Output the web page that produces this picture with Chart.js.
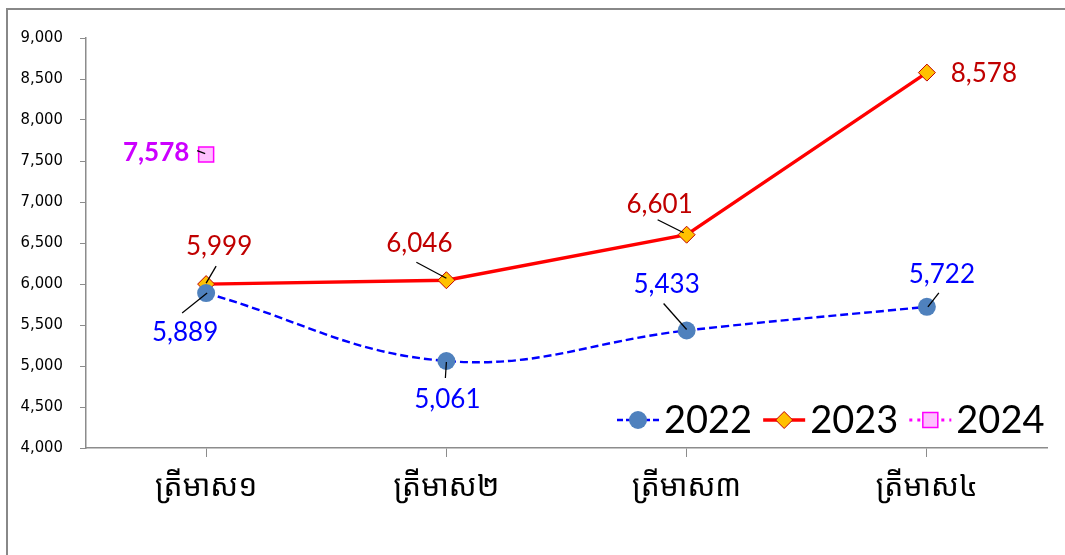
<!DOCTYPE html>
<html>
<head>
<meta charset="utf-8">
<script src="https://cdn.jsdelivr.net/npm/chart.js@4/dist/chart.umd.min.js"></script>
<style>
  html, body { margin: 0; padding: 0; background: #fff; }
  #wrap { position: relative; width: 1065px; height: 555px; overflow: hidden; }
  #frame { position: absolute; left: 6px; top: 8px; width: 1200px; height: 700px; border: 2px solid #888; box-sizing: border-box; }
  canvas { position: absolute; left: 0; top: 0; }
</style>
</head>
<body>
<div id="wrap">
  <div id="frame"></div>
  <canvas id="c" width="1065" height="555"></canvas>
</div>
<script>
const categories = ['ត្រីមាស១', 'ត្រីមាស២', 'ត្រីមាស៣', 'ត្រីមាស៤'];
const seriesNames = ['2022', '2023', '2024'];
const values2022 = [5889, 5061, 5433, 5722];
const values2023 = [5999, 6046, 6601, 8578];
const values2024 = [7578, null, null, null];
const yTicks = [4000, 4500, 5000, 5500, 6000, 6500, 7000, 7500, 8000, 8500, 9000];

// label placement (offsets from the point, pixels) and leader lines
const labelStyle = [
  { color: '#0000FF', bold: false,
    off: [[-21, 40], [1, 39], [-20, -46], [15, -32]],
    lead: [[1, 0, -24, 20], [0, 1, -1, 17], [-23, -27, 0, -1], [12, -14, 1, 0]] },
  { color: '#C00000', bold: false,
    off: [[13, -37], [-27, -37], [-27, -30], [57, 1]],
    lead: [[10, -18, 0, -1], [-30, -18, 0, -2], [-29, -15, -3, -2], null] },
  { color: '#CC00FF', bold: true,
    off: [[-50, -2]],
    lead: [[-9, -4, -1, -1]] }
];

const fmt = v => v.toLocaleString('en-US');

const dataLabelPlugin = {
  id: 'dataLabels',
  afterDatasetsDraw(chart) {
    const ctx = chart.ctx;
    chart.data.datasets.forEach((ds, di) => {
      const meta = chart.getDatasetMeta(di);
      const st = labelStyle[di];
      meta.data.forEach((pt, i) => {
        const v = ds.data[i];
        if (v === null || v === undefined || !st.off[i]) return;
        const x = pt.x, y = pt.y;
        const ld = st.lead[i];
        if (ld) {
          ctx.save();
          ctx.strokeStyle = '#000';
          ctx.lineWidth = 1.3;
          ctx.beginPath();
          ctx.moveTo(x + ld[0], y + ld[1]);
          ctx.lineTo(x + ld[2], y + ld[3]);
          ctx.stroke();
          ctx.restore();
        }
        ctx.save();
        ctx.font = (st.bold ? 'bold ' : '') + '26px Lato, "Open Sans", sans-serif';
        ctx.fillStyle = st.color;
        ctx.textAlign = 'center';
        ctx.textBaseline = 'middle';
        ctx.fillText(fmt(v), x + st.off[i][0], y + st.off[i][1]);
        ctx.restore();
      });
    });
  }
};

function drawMarker(ctx, ds, x, y) {
  ctx.save();
  ctx.fillStyle = ds.pointBackgroundColor;
  ctx.strokeStyle = ds.pointBorderColor;
  ctx.lineWidth = ds.pointBorderWidth;
  ctx.beginPath();
  const r = ds.pointRadius;
  if (ds.pointStyle === 'circle') {
    ctx.arc(x, y, r, 0, Math.PI * 2);
  } else if (ds.pointStyle === 'rectRot') {
    ctx.moveTo(x, y - r); ctx.lineTo(x + r, y); ctx.lineTo(x, y + r); ctx.lineTo(x - r, y); ctx.closePath();
  } else {
    const s = r * Math.SQRT1_2;
    ctx.rect(x - s, y - s, 2 * s, 2 * s);
  }
  ctx.fill();
  if (ds.pointBorderWidth > 0) ctx.stroke();
  ctx.restore();
}

const legendPlugin = {
  id: 'customLegend',
  afterDraw(chart) {
    const ctx = chart.ctx;
    ctx.save();
    ctx.font = '38px Lato, "Open Sans", sans-serif';
    let x = 617;
    const y = 420;
    chart.data.datasets.forEach(ds => {
      const sw = 42;
      ctx.save();
      ctx.strokeStyle = ds.borderColor;
      ctx.lineWidth = ds.legendWidth || ds.borderWidth;
      ctx.setLineDash(ds.legendDash || []);
      ctx.beginPath();
      ctx.moveTo(x, y); ctx.lineTo(x + sw, y);
      ctx.stroke();
      ctx.restore();
      drawMarker(ctx, ds, x + sw / 2, y);
      x += sw + 5;
      ctx.fillStyle = '#000';
      ctx.textAlign = 'left';
      ctx.textBaseline = 'middle';
      ctx.fillText(ds.label, x, y + 1);
      x += ctx.measureText(ds.label).width + 11;
    });
    ctx.restore();
  }
};

new Chart(document.getElementById('c'), {
  type: 'line',
  data: {
    labels: categories,
    datasets: [
      { label: seriesNames[0], data: values2022, borderColor: '#0000FF', borderWidth: 2.4,
        borderDash: [8, 4], legendDash: [6, 3], legendWidth: 2.6, tension: 0.4,
        pointStyle: 'circle', pointRadius: 9, pointBackgroundColor: '#4F81BD',
        pointBorderColor: '#4F81BD', pointBorderWidth: 0 },
      { label: seriesNames[1], data: values2023, borderColor: '#FF0000', borderWidth: 3.3,
        tension: 0, pointStyle: 'rectRot', pointRadius: 8.5, pointBackgroundColor: '#FFC000',
        pointBorderColor: '#C00000', pointBorderWidth: 1 },
      { label: seriesNames[2], data: values2024, borderColor: '#FF00FF', borderWidth: 2,
        borderDash: [2, 3], legendDash: [3, 5], legendWidth: 3, tension: 0, pointStyle: 'rect', pointRadius: 10.6,
        pointBackgroundColor: '#FFC0FF', pointBorderColor: '#FF00FF', pointBorderWidth: 1.5 }
    ]
  },
  options: {
    responsive: false,
    animation: false,
    layout: { padding: { top: 38, right: 18, left: 0, bottom: 0 } },
    plugins: { legend: { display: false }, tooltip: { enabled: false } },
    elements: { point: { hoverRadius: 9 } },
    scales: {
      x: {
        offset: true,
        grid: { offset: false, drawOnChartArea: false, drawTicks: true, tickLength: 9, color: '#8c8c8c' },
        border: { color: '#8c8c8c', width: 1.5 },
        ticks: { color: '#000', padding: 12, font: { size: 30, family: '"Noto Sans Khmer", "Khmer OS", "Khmer OS System", sans-serif' }, maxRotation: 0 },
        afterFit(s) { s.height = 555 - 448; }
      },
      y: {
        min: 4000, max: 9000,
        afterBuildTicks(s) { s.ticks = yTicks.map(v => ({ value: v })); },
        grid: { drawOnChartArea: false, drawTicks: true, tickLength: 6, color: '#8c8c8c' },
        border: { color: '#8c8c8c', width: 1.5 },
        ticks: { color: '#000', padding: 17, font: { size: 16.5, family: '"DejaVu Sans Condensed", "DejaVu Sans", sans-serif' },
                 callback: v => fmt(v) },
        afterFit(s) { s.width = 86; }
      }
    }
  },
  plugins: [dataLabelPlugin, legendPlugin]
});
</script>
</body>
</html>
